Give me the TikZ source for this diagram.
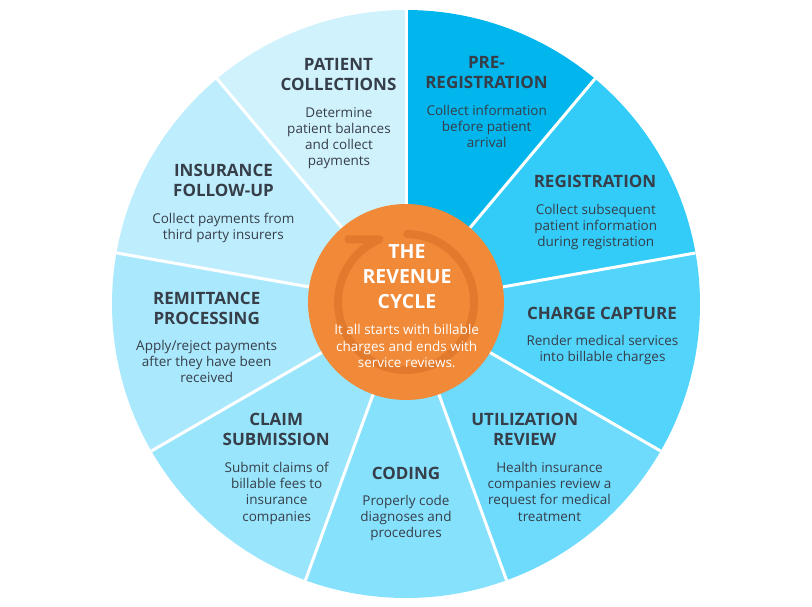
\documentclass[tikz,border=0pt]{standalone}
\usepackage{fontspec}
\setmainfont{Open Sans}
\definecolor{cA}{HTML}{00B6EC}
\definecolor{cB}{HTML}{33CCF9}
\definecolor{cC}{HTML}{52D4FB}
\definecolor{cD}{HTML}{6EDBFD}
\definecolor{cE}{HTML}{86E1FD}
\definecolor{cF}{HTML}{98E5FC}
\definecolor{cG}{HTML}{AAE9FD}
\definecolor{cH}{HTML}{BEEEFD}
\definecolor{cI}{HTML}{D0F2FC}
\definecolor{orng}{HTML}{F08938}
\definecolor{ringc}{HTML}{E27A2D}
\definecolor{txt}{HTML}{363E49}
\begin{document}
\begin{tikzpicture}[x=1pt,y=-1pt,
  hd/.style={font=\bfseries\fontsize{17}{20}\selectfont, text=txt, align=center, inner sep=0pt},
  bd/.style={font=\fontsize{13.5}{16.2}\selectfont, text=txt, align=center, inner sep=0pt},
  hubtitle/.style={font=\bfseries\fontsize{19.5}{25}\selectfont, text=white, align=center, inner sep=0pt},
  hubbody/.style={font=\fontsize{13.5}{16.6}\selectfont, text=white, align=center, inner sep=0pt},
  sepline/.style={white, line width=3pt}]
\useasboundingbox (0,0) rectangle (812,607);
\coordinate (c) at (406,304);
% wedges
\foreach \i/\col in {0/cA,1/cB,2/cC,3/cD,4/cE,5/cF,6/cG,7/cH,8/cI}
  \fill[\col] (c) -- ++({40*\i-90}:294) arc[start angle={40*\i-90}, end angle={40*\i-50}, radius=294] -- cycle;
\foreach \a in {-90,-50,...,230}
  \draw[sepline] (c) -- ++(\a:294);
% hub
\node[circle, fill=orng, minimum size=196pt, inner sep=0pt] (hub) at (406,302) {};
\draw[ringc, line width=8pt, line cap=round, line join=round]
  (hub.center) ++(-89:68) arc[start angle=-89, end angle=247, radius=68] -- ++(-31,0);
\node[hubtitle] (hubt) at (407,276.2) {THE\\REVENUE\\CYCLE};
\node[hubbody] (hubb) at (406.7,346.3) {It all starts with billable\\charges and ends with\\service reviews.};
% segment texts
\node[hd] (preh) at (486.5,72.7) {PRE-\\REGISTRATION};
\node[bd] (preb) at (486.7,126.7) {Collect information\\before patient\\arrival};
\node[hd] (regh) at (595,181.7) {REGISTRATION};
\node[bd] (regb) at (595.8,226.7) {Collect subsequent\\patient information\\during registration};
\node[hd] (chh) at (602,313.3) {CHARGE CAPTURE};
\node[bd] (chb) at (602.5,350.3) {Render medical services\\into billable charges};
\node[hd] (uth) at (524.7,429.3) {UTILIZATION\\REVIEW};
\node[bd] (utb) at (549.5,491.7) {Health insurance\\companies review a\\request for medical\\treatment};
\node[hd] (coh) at (406,473.3) {CODING};
\node[bd] (cob) at (406,518) {Properly code\\diagnoses and\\procedures};
\node[hd] (clh) at (276.2,429.7) {CLAIM\\SUBMISSION};
\node[bd] (clb) at (276.7,493.3) {Submit claims of\\billable fees to\\insurance\\companies};
\node[hd] (reh) at (206.7,308.8) {REMITTANCE\\PROCESSING};
\node[bd] (reb) at (206.7,361.7) {Apply/reject payments\\after they have been\\received};
\node[hd] (inh) at (223.5,180) {INSURANCE\\FOLLOW-UP};
\node[bd] (inb) at (223.3,228) {Collect payments from\\third party insurers};
\node[hd] (pah) at (338.5,74.5) {PATIENT\\COLLECTIONS};
\node[bd] (pab) at (339,138) {Determine\\patient balances\\and collect\\payments};
\end{tikzpicture}
\end{document}
